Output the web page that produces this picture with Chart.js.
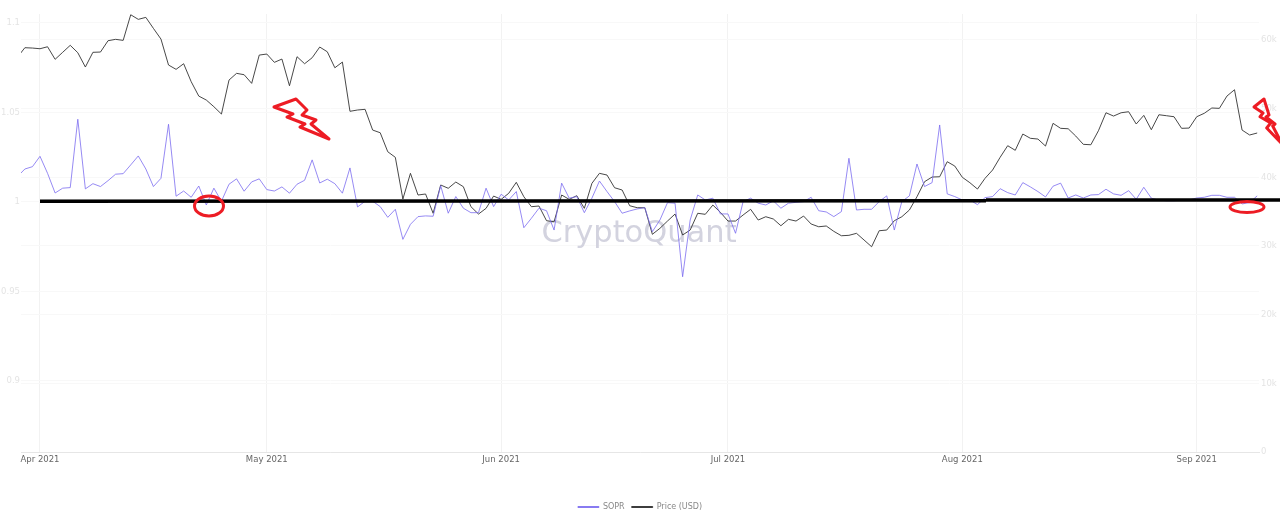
<!DOCTYPE html>
<html>
<head>
<meta charset="utf-8">
<title>SOPR vs Price</title>
<script src="https://cdn.jsdelivr.net/npm/chart.js@4/dist/chart.umd.min.js"></script>
<style>
  html, body { margin: 0; padding: 0; background: #fff; overflow: hidden; }
  canvas { display: block; }
</style>
</head>
<body>
<canvas id="chart" width="1280" height="517"></canvas>
<script>
// days are counted from 1 Apr 2021, the series start on 29 Mar
const firstDay = -3;
const monthTicks = [0, 30, 61, 91, 122, 153];
const monthLabels = ["Apr 2021", "May 2021", "Jun 2021", "Jul 2021", "Aug 2021", "Sep 2021"];
const soprTicks = [0.9, 0.95, 1, 1.05, 1.1];
const priceTicks = [0, 10000, 20000, 30000, 40000, 50000, 60000];

const sopr = [
  1.0141, 1.0184, 1.0197, 1.0255, 1.0160, 1.0050, 1.0077, 1.0080, 1.0462, 1.0073,
  1.0102, 1.0086, 1.0119, 1.0155, 1.0158, 1.0207, 1.0257, 1.0184, 1.0086, 1.0132,
  1.0434, 1.0032, 1.0061, 1.0026, 1.0089, 0.9983, 1.0077, 1.0004, 1.0099, 1.0129,
  1.0060, 1.0112, 1.0129, 1.0069, 1.0061, 1.0084, 1.0049, 1.0099, 1.0121, 1.0235,
  1.0106, 1.0127, 1.0102, 1.0049, 1.0190, 0.9972, 1.0004, 1.0004, 0.9974, 0.9914,
  0.9959, 0.9791, 0.9875, 0.9918, 0.9922, 0.9920, 1.0091, 0.9937, 1.0030, 0.9965,
  0.9940, 0.9940, 1.0077, 0.9974, 1.0043, 1.0011, 1.0058, 0.9856, 0.9909, 0.9965,
  0.9951, 0.9843, 1.0105, 1.0021, 1.0030, 0.9940, 1.0021, 1.0117, 1.0058, 1.0002,
  0.9937, 0.9950, 0.9961, 0.9968, 0.9834, 0.9899, 0.9996, 0.9993, 0.9582, 0.9899,
  1.0039, 1.0011, 1.0021, 0.9933, 0.9933, 0.9825, 1.0002, 1.0021, 0.9993, 0.9983,
  1.0006, 0.9965, 0.9993, 0.9998, 1.0002, 1.0026, 0.9951, 0.9944, 0.9918, 0.9946,
  1.0244, 0.9955, 0.9959, 0.9959, 1.0002, 1.0034, 0.9843, 1.0002, 1.0034, 1.0212,
  1.0086, 1.0108, 1.0430, 1.0045, 1.0030, 1.0011, 1.0011, 0.9985, 1.0024, 1.0030,
  1.0074, 1.0052, 1.0039, 1.0108, 1.0084, 1.0058, 1.0028, 1.0088, 1.0105, 1.0022,
  1.0039, 1.0022, 1.0039, 1.0041, 1.0071, 1.0045, 1.0037, 1.0063, 1.0015, 1.0082,
  1.0021, 1.0010, 1.0007, 1.0007, 1.0010, 1.0011, 1.0022, 1.0026, 1.0037, 1.0037,
  1.0026, 1.0026, 0.9989, 0.9996, 1.0034
];

const price = [
  57470, 58870, 58820, 58720, 59010, 57180, 58200, 59220, 58140, 56060,
  58200, 58240, 59890, 60090, 59940, 63670, 63000, 63290, 61690, 60130,
  56350, 55720, 56540, 53920, 51830, 51250, 50280, 49210, 54160, 55140,
  54940, 53680, 57800, 57950, 56740, 57220, 53330, 57560, 56540, 57410,
  58970, 58280, 55950, 56780, 49610, 49800, 49900, 46880, 46490, 43720,
  42910, 36840, 40580, 37420, 37570, 34760, 38880, 38400, 39310, 38630,
  35720, 34650, 35480, 37270, 36790, 37670, 39270, 37170, 35720, 35820,
  33680, 33530, 37420, 36790, 37320, 35480, 39120, 40580, 40330, 38480,
  38150, 35860, 35570, 35570, 31700, 32570, 33630, 34650, 31600, 32320,
  34760, 34610, 35960, 34900, 33630, 33630, 34510, 35340, 33780, 34260,
  33930, 32950, 33880, 33630, 34360, 33200, 32800, 32910, 32130, 31490,
  31550, 31840, 30870, 29890, 32220, 32320, 33680, 34260, 35240, 37170,
  39360, 40040, 40080, 42270, 41640, 40000, 39210, 38290, 39850, 41060,
  42910, 44600, 43930, 46300, 45680, 45570, 44550, 47860, 47130, 47070,
  46010, 44800, 44740, 46780, 49400, 48920, 49400, 49550, 47760, 49020,
  46930, 49110, 48970, 48820, 47130, 47170, 48820, 49320, 50090, 50040,
  51830, 52750, 46880, 46160, 46450
];

function points(values) {
  return values.map((v, i) => ({ x: firstDay + i, y: v }));
}

// watermark sits behind the lines
const watermark = {
  id: "watermark",
  beforeDatasetsDraw(chart) {
    const ctx = chart.ctx;
    ctx.save();
    ctx.font = "30.5px 'DejaVu Sans'";
    ctx.fillStyle = "#d3d3df";
    ctx.textAlign = "center";
    ctx.textBaseline = "alphabetic";
    ctx.fillText("CryptoQuant", 639, 242);
    ctx.restore();
  }
};

// hand drawn marks on top of the chart, they are not data
const inkMarks = {
  id: "inkMarks",
  afterDraw(chart) {
    const ctx = chart.ctx;
    ctx.save();

    ctx.strokeStyle = "#000";
    ctx.lineWidth = 3.5;
    ctx.beginPath();
    ctx.moveTo(40, 201.3);
    ctx.lineTo(986, 200.7);
    ctx.moveTo(986, 200);
    ctx.lineTo(1280, 200);
    ctx.stroke();

    ctx.strokeStyle = "#ed1c24";
    ctx.lineWidth = 3;
    ctx.lineJoin = "round";

    ctx.beginPath();
    ctx.ellipse(209, 206, 14.5, 10, 0, 0, Math.PI * 2);
    ctx.stroke();

    ctx.beginPath();
    ctx.ellipse(1247, 207, 17, 5.5, 0, 0, Math.PI * 2);
    ctx.stroke();

    const bolts = [
      [[274, 107], [296, 99], [307, 110], [302, 115], [316, 120], [311, 124], [329, 139], [300, 127], [305, 124], [287, 117], [293, 114]],
      [[1254, 107], [1264, 99], [1269, 115], [1266, 117], [1275, 124], [1272.7, 126], [1282, 144], [1266.7, 128], [1270.7, 123], [1260, 116.7], [1263, 113]]
    ];
    bolts.forEach(bolt => {
      ctx.beginPath();
      bolt.forEach((p, i) => i ? ctx.lineTo(p[0], p[1]) : ctx.moveTo(p[0], p[1]));
      ctx.closePath();
      ctx.stroke();
    });

    ctx.restore();
  }
};

new Chart(document.getElementById("chart"), {
  type: "line",
  data: {
    datasets: [
      { label: "SOPR", data: points(sopr), yAxisID: "ySopr", borderColor: "#7b6cf0", backgroundColor: "#7b6cf0", borderWidth: 0.8, pointRadius: 0 },
      { label: "Price (USD)", data: points(price), yAxisID: "yPrice", borderColor: "#333", backgroundColor: "#333", borderWidth: 0.9, pointRadius: 0 }
    ]
  },
  options: {
    responsive: false,
    animation: false,
    // negative bottom pushes the legend down to the window edge
    layout: { padding: { top: 14, left: 0, right: 0, bottom: -4 } },
    plugins: {
      tooltip: { enabled: false },
      legend: {
        position: "bottom",
        labels: { boxWidth: 21, boxHeight: 1, padding: 7, color: "#888", font: { family: "DejaVu Sans", size: 8 } }
      }
    },
    scales: {
      x: {
        type: "linear",
        min: -2.513,
        max: 161.24,
        afterFit(scale) { scale.height = 44; },
        afterBuildTicks(scale) { scale.ticks = monthTicks.map(v => ({ value: v })); },
        grid: { color: "#f2f2f2", drawTicks: false },
        border: { color: "#e6e6e6" },
        ticks: {
          autoSkip: false,
          maxRotation: 0,
          padding: 3,
          color: "#666",
          font: { family: "DejaVu Sans", size: 8.5 },
          callback: v => monthLabels[monthTicks.indexOf(v)]
        }
      },
      ySopr: {
        position: "left",
        min: 0.8603,
        max: 1.105,
        afterFit(scale) { scale.width = 21; },
        afterBuildTicks(scale) { scale.ticks = soprTicks.map(v => ({ value: v })); },
        grid: { color: "#f8f8f8", drawTicks: false },
        border: { display: false },
        ticks: { padding: 1, color: "#e4e4e4", font: { family: "DejaVu Sans", size: 8.5 }, callback: v => String(v) }
      },
      yPrice: {
        position: "right",
        min: 0,
        max: 63780,
        afterFit(scale) { scale.width = 21; },
        afterBuildTicks(scale) { scale.ticks = priceTicks.map(v => ({ value: v })); },
        grid: { color: "#f8f8f8", drawTicks: false },
        border: { display: false },
        ticks: { padding: 2, color: "#e4e4e4", font: { family: "DejaVu Sans", size: 8.5 }, callback: v => v === 0 ? "0" : (v / 1000) + "k" }
      }
    }
  },
  plugins: [watermark, inkMarks]
});
</script>
</body>
</html>
